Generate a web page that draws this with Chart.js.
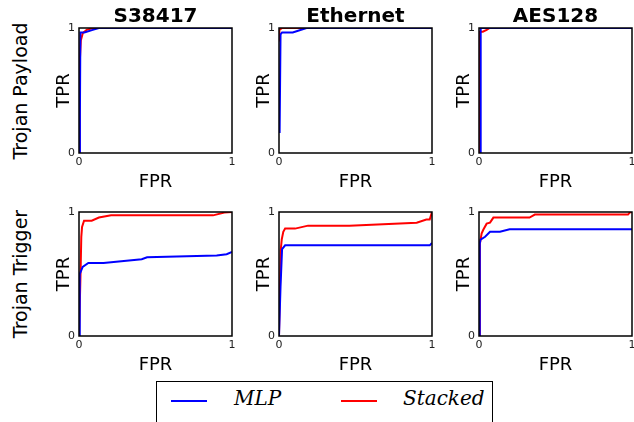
<!DOCTYPE html>
<html>
<head>
<meta charset="utf-8">
<script src="https://cdn.jsdelivr.net/npm/chart.js@4/dist/chart.umd.min.js"></script>
<style>
  html, body { margin: 0; padding: 0; background: #fff; overflow: hidden; width: 634px; height: 422px; }
  body { position: relative; font-family: "DejaVu Sans", sans-serif; }
  canvas { position: absolute; }
  .title { position: absolute; font: bold 20px "DejaVu Sans", sans-serif; color: #000; transform: translate(-50%, -50%); white-space: nowrap; }
  .row { position: absolute; font: 19px "DejaVu Sans", sans-serif; color: #000; transform: translate(-50%, -50%) rotate(-90deg); white-space: nowrap; }
  #legend { position: absolute; left: 156px; top: 381px; width: 337px; height: 60px; border: 1px solid #000; box-sizing: border-box; background: #fff; }
  .swatch { position: absolute; height: 2px; width: 36px; top: 18px; }
  .lab { position: absolute; top: 4px; font: italic 20px "DejaVu Serif", serif; color: #000; }
</style>
</head>
<body>
<script>
// ---- categories / labels ----
const benchmarks = ["S38417", "Ethernet", "AES128"];
const rowNames = ["Trojan Payload", "Trojan Trigger"];
const seriesNames = ["MLP", "Stacked"];
const xTicks = [0, 1];
const yTicks = [0, 1];

// ---- Trojan Payload ----
const payS38417MlpFpr = [0, 0.006, 0.009, 0.035, 0.09, 0.13, 1];
const payS38417MlpTpr = [0, 0.3, 0.965, 0.965, 0.985, 1, 1];
const payS38417StkFpr = [0, 0.004, 0.012, 0.025, 0.05, 0.09, 1];
const payS38417StkTpr = [0, 0.7, 0.9, 0.96, 0.985, 1, 1];

const payEthernetMlpFpr = [0.004, 0.01, 0.02, 0.09, 0.18, 1];
const payEthernetMlpTpr = [0.16, 0.95, 0.965, 0.965, 1, 1];
const payEthernetStkFpr = [0, 0, 0.005, 0.02, 1];
const payEthernetStkTpr = [0.9, 0.96, 0.985, 1, 1];

const payAES128MlpFpr = [0.009, 0.009, 0.013, 1];
const payAES128MlpTpr = [0, 0.99, 1, 1];
const payAES128StkFpr = [0, 0, 0.025, 0.05, 0.07, 1];
const payAES128StkTpr = [0, 0.97, 0.97, 0.985, 1, 1];

// ---- Trojan Trigger ----
const trgS38417MlpFpr = [0, 0.005, 0.01, 0.024, 0.061, 0.16, 0.41, 0.445, 0.9, 0.965, 1];
const trgS38417MlpTpr = [0, 0.5, 0.516, 0.557, 0.589, 0.589, 0.619, 0.635, 0.65, 0.66, 0.678];
const trgS38417StkFpr = [0, 0.01, 0.015, 0.02, 0.033, 0.083, 0.13, 0.21, 0.876, 0.95, 1];
const trgS38417StkTpr = [0, 0.5, 0.8, 0.88, 0.93, 0.93, 0.955, 0.973, 0.973, 0.995, 1];

const trgEthernetMlpFpr = [0, 0.01, 0.02, 0.04, 0.985, 1];
const trgEthernetMlpTpr = [0, 0.4, 0.7, 0.731, 0.731, 0.75];
const trgEthernetStkFpr = [0, 0.011, 0.018, 0.028, 0.04, 0.105, 0.19, 0.46, 0.9, 0.963, 0.985, 1];
const trgEthernetStkTpr = [0, 0.69, 0.78, 0.84, 0.866, 0.866, 0.89, 0.89, 0.914, 0.94, 0.94, 1];

const trgAES128MlpFpr = [0, 0.005, 0.01, 0.04, 0.072, 0.137, 0.2, 1];
const trgAES128MlpTpr = [0, 0.745, 0.777, 0.8, 0.84, 0.84, 0.86, 0.86];
const trgAES128StkFpr = [0, 0.006, 0.017, 0.028, 0.05, 0.072, 0.094, 0.33, 0.365, 0.974, 0.985, 1];
const trgAES128StkTpr = [0, 0.745, 0.826, 0.857, 0.906, 0.914, 0.955, 0.955, 0.979, 0.979, 0.995, 1];

const panels = [
  [[payS38417MlpFpr, payS38417MlpTpr, payS38417StkFpr, payS38417StkTpr],
   [payEthernetMlpFpr, payEthernetMlpTpr, payEthernetStkFpr, payEthernetStkTpr],
   [payAES128MlpFpr, payAES128MlpTpr, payAES128StkFpr, payAES128StkTpr]],
  [[trgS38417MlpFpr, trgS38417MlpTpr, trgS38417StkFpr, trgS38417StkTpr],
   [trgEthernetMlpFpr, trgEthernetMlpTpr, trgEthernetStkFpr, trgEthernetStkTpr],
   [trgAES128MlpFpr, trgAES128MlpTpr, trgAES128StkFpr, trgAES128StkTpr]]
];

// ---- layout ----
const plotLefts = [79, 279, 479];
const plotW = 153;
const plotTops = [28, 212];
const plotHs = [125, 124];
const Y_AXIS_W = 40, X_AXIS_H = 40, PAD_T = 8, PAD_R = 8;
const COLORS = ["#0000ff", "#ff0000"];

const toPts = (xs, ys) => xs.map((x, i) => ({ x: x, y: ys[i] }));

const boxPlugin = {
  id: 'box',
  afterDatasetsDraw(chart) {
    const a = chart.chartArea, ctx = chart.ctx;
    ctx.save();
    ctx.strokeStyle = '#000';
    ctx.lineWidth = 1.5;
    ctx.strokeRect(a.left, a.top, a.right - a.left, a.bottom - a.top);
    ctx.restore();
  }
};

const body = document.body;
for (let r = 0; r < 2; r++) {
  for (let c = 0; c < 3; c++) {
    const cv = document.createElement('canvas');
    const w = Y_AXIS_W + plotW + PAD_R;
    const h = PAD_T + plotHs[r] + X_AXIS_H;
    cv.width = w; cv.height = h;
    cv.style.width = w + 'px'; cv.style.height = h + 'px';
    cv.style.left = (plotLefts[c] - Y_AXIS_W) + 'px';
    cv.style.top = (plotTops[r] - PAD_T) + 'px';
    body.appendChild(cv);
    const d = panels[r][c];
    new Chart(cv, {
      type: 'scatter',
      data: {
        datasets: [
          { label: seriesNames[0], data: toPts(d[0], d[1]), showLine: true, borderColor: COLORS[0], backgroundColor: COLORS[0], borderWidth: 2, pointRadius: 0, tension: 0 },
          { label: seriesNames[1], data: toPts(d[2], d[3]), showLine: true, borderColor: COLORS[1], backgroundColor: COLORS[1], borderWidth: 2, pointRadius: 0, tension: 0 }
        ]
      },
      options: {
        responsive: false,
        animation: false,
        devicePixelRatio: 1,
        layout: { padding: { left: 0, top: PAD_T, right: PAD_R, bottom: 0 } },
        plugins: { legend: { display: false }, tooltip: { enabled: false }, title: { display: false } },
        scales: {
          x: {
            type: 'linear', min: 0, max: 1,
            grid: { display: false, drawTicks: false },
            border: { display: false },
            afterBuildTicks: s => { s.ticks = xTicks.map(v => ({ value: v })); },
            ticks: { padding: 3, color: '#222', font: { family: 'DejaVu Sans', size: 11 }, maxRotation: 0, callback: v => String(v) },
            title: { display: true, text: 'FPR', color: '#000', font: { family: 'DejaVu Sans', size: 18 }, padding: { top: 0, bottom: 0 } },
            afterFit: s => { s.height = X_AXIS_H; s.paddingLeft = 0; s.paddingRight = 0; }
          },
          y: {
            type: 'linear', min: 0, max: 1,
            grid: { display: false, drawTicks: false },
            border: { display: false },
            afterBuildTicks: s => { s.ticks = yTicks.map(v => ({ value: v })); },
            ticks: { padding: 4, color: '#222', font: { family: 'DejaVu Sans', size: 11 }, callback: v => String(v) },
            title: { display: true, text: 'TPR', color: '#000', font: { family: 'DejaVu Sans', size: 18 }, padding: { top: 15, bottom: 0 } },
            afterFit: s => { s.width = Y_AXIS_W; s.paddingTop = 0; s.paddingBottom = 0; }
          }
        }
      },
      plugins: [boxPlugin]
    });
  }
}

// titles
benchmarks.forEach((b, i) => {
  const t = document.createElement('div');
  t.className = 'title';
  t.textContent = b;
  t.style.left = (plotLefts[i] + plotW / 2) + 'px';
  t.style.top = '15px';
  body.appendChild(t);
});
rowNames.forEach((n, i) => {
  const t = document.createElement('div');
  t.className = 'row';
  t.textContent = n;
  t.style.left = '20px';
  t.style.top = (plotTops[i] + plotHs[i] / 2) + 'px';
  body.appendChild(t);
});

// legend
const lg = document.createElement('div');
lg.id = 'legend';
const swLeft = [14, 184], labLeft = [77, 246];
seriesNames.forEach((n, i) => {
  const s = document.createElement('div');
  s.className = 'swatch';
  s.style.left = swLeft[i] + 'px';
  s.style.background = COLORS[i];
  lg.appendChild(s);
  const l = document.createElement('div');
  l.className = 'lab';
  l.style.left = labLeft[i] + 'px';
  l.textContent = n;
  lg.appendChild(l);
});
body.appendChild(lg);
</script>
</body>
</html>
